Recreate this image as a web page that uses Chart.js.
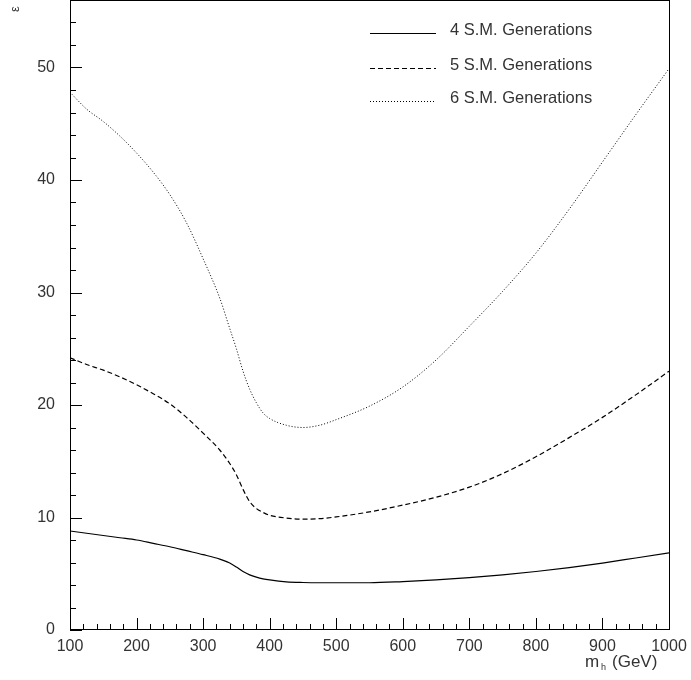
<!DOCTYPE html>
<html lang="en">
<head>
  <meta charset="UTF-8">
  <title>Epsilon vs Higgs mass</title>
  <script src="https://cdn.jsdelivr.net/npm/chart.js"></script>
  <style>
body {
  margin: 0;
  background: #fff;
}
canvas {
  display: block;
}
  </style>
</head>
<body>
  <canvas id="epsChart" width="691" height="680"></canvas>
  <script>
    // Higgs mass grid (GeV), shared by all three curves
    var mass = [100, 125, 150, 175, 200, 225, 250, 275, 300, 325, 340, 350, 360, 370, 380, 390,
                400, 425, 450, 475, 500, 550, 600, 650, 700, 750, 800, 850, 900, 950, 1000];

    var gen4 = [8.8, 8.6, 8.4, 8.2, 8.0, 7.7, 7.4, 7.05, 6.7, 6.3, 5.95, 5.6, 5.2, 4.9, 4.7, 4.55,
                4.45, 4.28, 4.22, 4.2, 4.2, 4.2, 4.3, 4.45, 4.65, 4.9, 5.2, 5.55, 5.95, 6.4, 6.85];

    var gen5 = [24.2, 23.6, 23.1, 22.5, 21.8, 21.0, 20.1, 18.9, 17.5, 16.0, 14.8, 13.8, 12.5, 11.4, 10.8, 10.45,
                10.2, 9.95, 9.85, 9.9, 10.05, 10.5, 11.1, 11.8, 12.7, 13.9, 15.4, 17.1, 18.9, 20.9, 23.0];

    var gen6 = [47.8, 46.3, 45.2, 43.9, 42.4, 40.7, 38.7, 36.2, 33.0, 29.5, 26.8, 25.0, 23.0, 21.4, 20.2, 19.3,
                18.8, 18.2, 18.0, 18.2, 18.7, 19.9, 21.6, 24.0, 27.0, 30.1, 33.5, 37.4, 41.6, 45.8, 49.9];

    var seriesNames = ['4 S.M. Generations', '5 S.M. Generations', '6 S.M. Generations'];

    var xTicks = [100, 200, 300, 400, 500, 600, 700, 800, 900, 1000];
    var yTicks = [0, 10, 20, 30, 40, 50];

    function toPoints(ys) {
      return mass.map(function(m, i) { return { x: m, y: ys[i] }; });
    }

    var FONT = '"Liberation Sans", Arial, sans-serif';

    // frame, inward ticks, in-plot legend and axis titles (PAW style)
    var pawDecor = {
      id: 'pawDecor',
      afterDraw: function(chart) {
        var c = chart.ctx;
        var a = chart.chartArea;
        var xs = chart.scales.x, ys = chart.scales.y;
        c.save();
        c.strokeStyle = '#000';
        c.lineWidth = 1;
        c.setLineDash([]);
        c.strokeRect(Math.round(a.left) + 0.5, Math.round(a.top) + 0.5,
                     Math.round(a.right - a.left), Math.round(a.bottom - a.top) - 1);

        c.beginPath();
        for (var v = 100; v <= 1000; v += 20) {
          var px = Math.round(xs.getPixelForValue(v)) + 0.5;
          var len = (v % 100 === 0) ? 12 : 6;
          c.moveTo(px, a.bottom);
          c.lineTo(px, a.bottom - len);
        }
        for (var w = 0; w <= 54; w += 2) {
          var py = Math.round(ys.getPixelForValue(w)) + 0.5;
          var l2 = (w % 10 === 0) ? 12 : 6;
          c.moveTo(a.left, py);
          c.lineTo(a.left + l2, py);
        }
        c.stroke();

        // legend inside the plot
        var rowY = [33, 68, 101];
        c.font = '16.5px ' + FONT;
        c.fillStyle = '#333';
        c.textBaseline = 'alphabetic';
        chart.data.datasets.forEach(function(ds, i) {
          c.beginPath();
          c.setLineDash(ds.borderDash || []);
          c.strokeStyle = ds.borderColor;
          c.lineWidth = 1;
          c.moveTo(370, rowY[i] + 0.5);
          c.lineTo(436, rowY[i] + 0.5);
          c.stroke();
          c.fillText(ds.label, 450, rowY[i] + 2);
        });
        c.setLineDash([]);

        // x title with subscript
        c.font = '17px ' + FONT;
        c.fillText('m', 585, 667);
        c.font = '9px ' + FONT;
        c.fillText('h', 601, 670);
        c.font = '17px ' + FONT;
        c.fillText('(GeV)', 612, 667);

        // y title, rotated
        c.translate(15, 9);
        c.rotate(-Math.PI / 2);
        c.font = '13px ' + FONT;
        c.textAlign = 'center';
        c.textBaseline = 'middle';
        c.fillText('\u03b5', 0, 0);
        c.restore();
      }
    };

    var ctx = document.getElementById('epsChart').getContext('2d');
    var chart = new Chart(ctx, {
      type: 'line',
      data: {
        datasets: [{
          label: seriesNames[0],
          data: toPoints(gen4),
          borderColor: '#000',
          borderWidth: 1.2
        }, {
          label: seriesNames[1],
          data: toPoints(gen5),
          borderColor: '#000',
          borderWidth: 1.2,
          borderDash: [5, 3]
        }, {
          label: seriesNames[2],
          data: toPoints(gen6),
          borderColor: '#000',
          borderWidth: 1,
          borderDash: [1, 2]
        }]
      },
      options: {
        responsive: false,
        animation: false,
        events: [],
        elements: {
          point: { radius: 0 },
          line: { cubicInterpolationMode: 'monotone', fill: false }
        },
        layout: { padding: { top: 0, right: 22, left: 0, bottom: 0 } },
        plugins: {
          legend: { display: false },
          tooltip: { enabled: false }
        },
        scales: {
          x: {
            type: 'linear',
            min: 100,
            max: 1000,
            afterBuildTicks: function(s) { s.ticks = xTicks.map(function(v) { return { value: v }; }); },
            afterFit: function(s) {
              s.height = 50;
              s.paddingLeft = 0; s.paddingRight = 0;
            },
            grid: { display: false, drawTicks: false },
            border: { display: false },
            ticks: {
              padding: 7,
              maxRotation: 0,
              color: '#333',
              font: { family: FONT, size: 16 },
              callback: function(v) { return String(v); }
            }
          },
          y: {
            type: 'linear',
            min: 0,
            max: 56,
            afterBuildTicks: function(s) { s.ticks = yTicks.map(function(v) { return { value: v }; }); },
            afterFit: function(s) {
              s.width = 70;
              s.paddingTop = 0; s.paddingBottom = 0;
            },
            grid: { display: false, drawTicks: false },
            border: { display: false },
            ticks: {
              padding: 15,
              color: '#333',
              font: { family: FONT, size: 16 },
              callback: function(v) { return String(v); }
            }
          }
        }
      },
      plugins: [pawDecor]
    });
  </script>
</body>
</html>
